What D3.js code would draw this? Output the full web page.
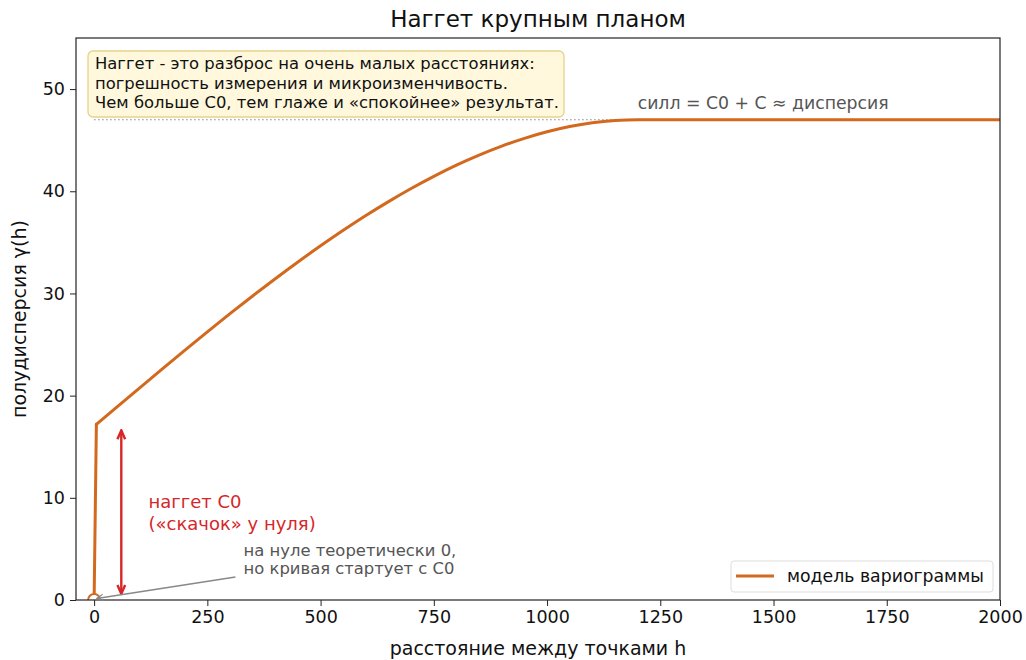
<!DOCTYPE html>
<html>
<head>
<meta charset="utf-8">
<script src="https://cdn.jsdelivr.net/npm/d3@7"></script>
<style>
  body { margin: 0; background: #fff; }
  text { font-family: "DejaVu Sans", sans-serif; }
</style>
</head>
<body>
<svg id="chart" width="1026" height="660"></svg>
<script>
// variogram model (h, gamma)
var lagH = [0, 5, 50, 100, 150, 200, 250, 300, 350, 400, 450, 500, 550, 600, 650, 700,
            750, 800, 850, 900, 950, 1000, 1050, 1100, 1150, 1200, 2000];
var gammaVals = [0, 17.19, 18.87, 20.74, 22.60, 24.43, 26.24, 28.02, 29.75, 31.44, 33.08, 34.66,
                 36.18, 37.63, 38.99, 40.27, 41.46, 42.56, 43.54, 44.42, 45.18, 45.82, 46.33,
                 46.70, 46.92, 47, 47];
var xTicks = [0, 250, 500, 750, 1000, 1250, 1500, 1750, 2000];
var yTicks = [0, 10, 20, 30, 40, 50];
var sill = 47;
var infoLines = ["Наггет - это разброс на очень малых расстояниях:",
                 "погрешность измерения и микроизменчивость.",
                 "Чем больше C0, тем глаже и «спокойнее» результат."];
var nuggetLines = ["наггет C0", "(«скачок» у нуля)"];
var zeroLines = ["на нуле теоретически 0,", "но кривая стартует с C0"];

var svg = d3.select("#chart");
var m = {left: 76, right: 1000, top: 38, bottom: 600};
var orange = "#d2691e";

var x = d3.scaleLinear().domain([-40, 2000]).range([m.left, m.right]);
var y = d3.scaleLinear().domain([0, 55]).range([m.bottom, m.top]);

var data = lagH.map(function(h, i) { return {h: h, g: gammaVals[i]}; });

var defs = svg.append("defs");
defs.append("clipPath").attr("id", "clip")
  .append("rect").attr("x", m.left).attr("y", m.top)
  .attr("width", m.right - m.left).attr("height", m.bottom - m.top);
defs.append("marker").attr("id", "redHead").attr("viewBox", "0 0 10 10")
  .attr("refX", 9).attr("refY", 5).attr("markerWidth", 11).attr("markerHeight", 11)
  .attr("markerUnits", "userSpaceOnUse").attr("orient", "auto-start-reverse")
  .append("path").attr("d", "M1,1.5 L9,5 L1,8.5").attr("fill", "none")
  .attr("stroke", "#d62728").attr("stroke-width", 2.2);
defs.append("marker").attr("id", "grayHead").attr("viewBox", "0 0 10 10")
  .attr("refX", 9).attr("refY", 5).attr("markerWidth", 8).attr("markerHeight", 8)
  .attr("markerUnits", "userSpaceOnUse").attr("orient", "auto")
  .append("path").attr("d", "M1,1 L9,5 L1,9").attr("fill", "none")
  .attr("stroke", "#888").attr("stroke-width", 1.4);

// axes
svg.append("g").attr("transform", "translate(0," + m.bottom + ")")
  .call(d3.axisBottom(x).tickValues(xTicks).tickFormat(d3.format("d")).tickSize(6).tickPadding(5))
  .call(function(g) { g.select(".domain").remove(); g.selectAll("line").attr("stroke", "#222"); })
  .selectAll("text").attr("font-size", 17.5).attr("fill", "#111");
svg.append("g").attr("transform", "translate(" + m.left + ",0)")
  .call(d3.axisLeft(y).tickValues(yTicks).tickSize(6).tickPadding(5))
  .call(function(g) { g.select(".domain").remove(); g.selectAll("line").attr("stroke", "#222"); })
  .selectAll("text").attr("font-size", 17.5).attr("fill", "#111");

var plot = svg.append("g").attr("clip-path", "url(#clip)");

// sill line
plot.append("line")
  .attr("x1", x(0)).attr("x2", x(2000)).attr("y1", y(sill)).attr("y2", y(sill))
  .attr("stroke", "#888").attr("stroke-width", 1.2).attr("stroke-dasharray", "1.5,2.5");

// model curve: straight jump at zero, smooth after it
var jumpLine = d3.line().x(function(d) { return x(d.h); }).y(function(d) { return y(d.g); });
var smoothLine = d3.line().curve(d3.curveMonotoneX)
  .x(function(d) { return x(d.h); }).y(function(d) { return y(d.g); });
plot.append("path").datum(data.slice(0, 2)).attr("d", jumpLine)
  .attr("fill", "none").attr("stroke", orange).attr("stroke-width", 3)
  .attr("stroke-linecap", "round");
plot.append("path").datum(data.slice(1)).attr("d", smoothLine)
  .attr("fill", "none").attr("stroke", orange).attr("stroke-width", 3)
  .attr("stroke-linecap", "round");

// hollow point at zero
plot.append("circle").attr("cx", x(0)).attr("cy", y(0)).attr("r", 6)
  .attr("fill", "#fff").attr("stroke", orange).attr("stroke-width", 2);

// frame
svg.append("rect").attr("x", m.left).attr("y", m.top)
  .attr("width", m.right - m.left).attr("height", m.bottom - m.top)
  .attr("fill", "none").attr("stroke", "#222").attr("stroke-width", 1.2);

// nugget arrow
svg.append("line")
  .attr("x1", x(60)).attr("x2", x(60)).attr("y1", y(0.6)).attr("y2", y(16.6))
  .attr("stroke", "#d62728").attr("stroke-width", 2.4)
  .attr("marker-start", "url(#redHead)").attr("marker-end", "url(#redHead)");

svg.append("g").selectAll("text").data(nuggetLines).enter().append("text")
  .attr("x", x(120)).attr("y", function(d, i) { return 508 + i * 21.5; })
  .attr("font-size", 18).attr("fill", "#d62728").text(function(d) { return d; });

// zero annotation
svg.append("line")
  .attr("x1", x(312)).attr("y1", 577).attr("x2", x(6)).attr("y2", y(0.15))
  .attr("stroke", "#888").attr("stroke-width", 1.4).attr("marker-end", "url(#grayHead)");
svg.append("g").selectAll("text").data(zeroLines).enter().append("text")
  .attr("x", x(330)).attr("y", function(d, i) { return 556 + i * 18; })
  .attr("font-size", 16.4).attr("fill", "#555").text(function(d) { return d; });

// sill label
svg.append("text").attr("x", x(1200)).attr("y", y(sill) - 11)
  .attr("font-size", 17.3).attr("fill", "#555").text("силл = C0 + C ≈ дисперсия");

// info box
svg.append("rect").attr("x", 88).attr("y", 51).attr("width", 476).attr("height", 66)
  .attr("rx", 5).attr("fill", "#fff8dc").attr("stroke", "#e6d28a").attr("stroke-width", 1.3);
svg.append("g").selectAll("text").data(infoLines).enter().append("text")
  .attr("x", 95).attr("y", function(d, i) { return 69 + i * 19.5; })
  .attr("font-size", 16.4).attr("fill", "#111").text(function(d) { return d; });

// legend
var lg = svg.append("g");
lg.append("rect").attr("x", 731).attr("y", 561).attr("width", 262).attr("height", 31)
  .attr("rx", 3).attr("fill", "#fff").attr("stroke", "#ddd");
lg.append("line").attr("x1", 736).attr("x2", 774).attr("y1", 576).attr("y2", 576)
  .attr("stroke", orange).attr("stroke-width", 3);
lg.append("text").attr("x", 787).attr("y", 582).attr("font-size", 17.3).attr("fill", "#111")
  .text("модель вариограммы");

// title and axis labels
svg.append("text").attr("x", (m.left + m.right) / 2).attr("y", 27).attr("text-anchor", "middle")
  .attr("font-size", 23).attr("fill", "#111").text("Наггет крупным планом");
svg.append("text").attr("x", (m.left + m.right) / 2).attr("y", 655).attr("text-anchor", "middle")
  .attr("font-size", 19).attr("fill", "#111").text("расстояние между точками h");
svg.append("text").attr("transform", "translate(26," + ((m.top + m.bottom) / 2) + ") rotate(-90)")
  .attr("text-anchor", "middle").attr("font-size", 19).attr("fill", "#111")
  .text("полудисперсия γ(h)");
</script>
</body>
</html>
